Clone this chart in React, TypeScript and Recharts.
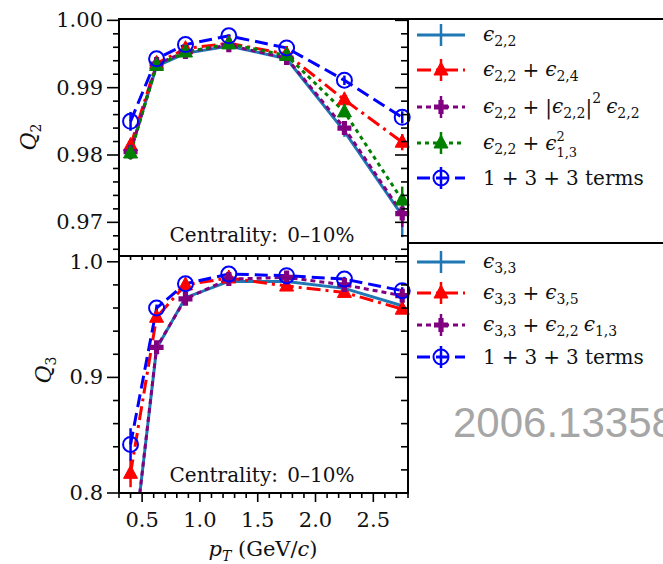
import React from 'react';
import { LineChart, Line, XAxis, YAxis, ErrorBar } from 'recharts';

const ptBins = [0.4, 0.625, 0.875, 1.25, 1.75, 2.25, 2.75];

// top panel, Q2
const q2Eps22 = [0.9806, 0.9932, 0.9951, 0.9962, 0.9943, 0.9835, 0.971];
const q2Eps22Err = [0.001, 0.0003, 0.0002, 0.0002, 0.0003, 0.0008, 0.0032];
const q2Eps24 = [0.9814, 0.9936, 0.9958, 0.9966, 0.995, 0.9882, 0.9819];
const q2Eps24Err = [0.001, 0.0003, 0.0002, 0.0002, 0.0003, 0.0007, 0.0012];
const q2Cubic = [0.9805, 0.9935, 0.9953, 0.9963, 0.9944, 0.984, 0.9713];
const q2CubicErr = [0.001, 0.0003, 0.0002, 0.0002, 0.0003, 0.0008, 0.002];
const q2Eps13 = [0.9803, 0.9933, 0.9953, 0.9965, 0.9948, 0.9864, 0.9733];
const q2Eps13Err = [0.001, 0.0003, 0.0002, 0.0002, 0.0003, 0.0007, 0.002];
const q2All = [0.985, 0.9943, 0.9964, 0.9977, 0.9959, 0.9911, 0.9856];
const q2AllErr = [0.0014, 0.0003, 0.0002, 0.0002, 0.0003, 0.0007, 0.0009];

// bottom panel, Q3 (first points of eps33 and mixed are below the axis)
const q3Eps33 = [0.73, 0.925, 0.969, 0.983, 0.983, 0.977, 0.962];
const q3Eps33Err = [0, 0.003, 0.002, 0.001, 0.001, 0.002, 0.003];
const q3Eps35 = [0.817, 0.952, 0.98, 0.986, 0.979, 0.9735, 0.959];
const q3Eps35Err = [0.012, 0.003, 0.002, 0.001, 0.001, 0.002, 0.003];
const q3Mixed = [0.73, 0.926, 0.968, 0.985, 0.9865, 0.98, 0.9707];
const q3MixedErr = [0, 0.003, 0.002, 0.001, 0.001, 0.002, 0.003];
const q3All = [0.842, 0.96, 0.981, 0.9894, 0.988, 0.985, 0.975];
const q3AllErr = [0.014, 0.003, 0.002, 0.001, 0.001, 0.002, 0.003];

const xMajorTicks = [0.5, 1.0, 1.5, 2.0, 2.5];
const xMinorTicks = [0.3, 0.4, 0.6, 0.7, 0.8, 0.9, 1.1, 1.2, 1.3, 1.4, 1.6, 1.7, 1.8, 1.9, 2.1, 2.2, 2.3, 2.4, 2.6, 2.7, 2.8];
const q2MajorTicks = [0.97, 0.98, 0.99, 1.0];
const q2MinorTicks = [0.966, 0.968, 0.972, 0.974, 0.976, 0.978, 0.982, 0.984, 0.986, 0.988, 0.992, 0.994, 0.996, 0.998];
const q3MajorTicks = [0.8, 0.9, 1.0];
const q3MinorTicks = [0.82, 0.84, 0.86, 0.88, 0.92, 0.94, 0.96, 0.98];

const SERIF = '"DejaVu Serif", "Liberation Serif", "Noto Serif", "Times New Roman", Times, FreeSerif, serif';
const PLOT_W = 289;

const STEEL = '#1f77b4';
const RED = '#ff0000';
const PURPLE = '#800080';
const GREEN = '#008000';
const BLUE = '#0000ff';

const DASH_RED = '14 5 3 5';
const DASH_PURPLE = '5 4';
const DASH_GREEN = '4 4';
const DASH_BLUE = '13 6';

type Kind = 'none' | 'triangle' | 'plus' | 'circle';

const q2Series = [
  { key: 'a', values: q2Eps22, errors: q2Eps22Err, color: STEEL, dash: undefined, marker: 'none' as Kind },
  { key: 'b', values: q2Eps24, errors: q2Eps24Err, color: RED, dash: DASH_RED, marker: 'triangle' as Kind },
  { key: 'c', values: q2Cubic, errors: q2CubicErr, color: PURPLE, dash: DASH_PURPLE, marker: 'plus' as Kind },
  { key: 'd', values: q2Eps13, errors: q2Eps13Err, color: GREEN, dash: DASH_GREEN, marker: 'triangle' as Kind },
  { key: 'e', values: q2All, errors: q2AllErr, color: BLUE, dash: DASH_BLUE, marker: 'circle' as Kind },
];

const q3Series = [
  { key: 'a', values: q3Eps33, errors: q3Eps33Err, color: STEEL, dash: undefined, marker: 'none' as Kind },
  { key: 'b', values: q3Eps35, errors: q3Eps35Err, color: RED, dash: DASH_RED, marker: 'triangle' as Kind },
  { key: 'c', values: q3Mixed, errors: q3MixedErr, color: PURPLE, dash: DASH_PURPLE, marker: 'plus' as Kind },
  { key: 'e', values: q3All, errors: q3AllErr, color: BLUE, dash: DASH_BLUE, marker: 'circle' as Kind },
];

const buildRows = (series: typeof q2Series) =>
  ptBins.map((pt, i) => {
    const row: any = { pt };
    series.forEach((s) => {
      row[s.key] = s.values[i];
      row[s.key + 'Err'] = s.errors[i];
    });
    return row;
  });

const q2Rows = buildRows(q2Series);
const q3Rows = buildRows(q3Series);

const isIn = (list: number[], v: number) => list.some((m) => Math.abs(m - v) < 1e-6);

function Marker({ kind, cx, cy, color }: { kind: Kind; cx: number; cy: number; color: string }) {
  if (kind === 'triangle') {
    return <polygon points={`${cx},${cy - 8} ${cx + 7},${cy + 5} ${cx - 7},${cy + 5}`} fill={color} stroke={color} strokeWidth={1} />;
  }
  if (kind === 'plus') {
    const a = 7;
    const b = 2.6;
    const d = `M${cx - b},${cy - a}H${cx + b}V${cy - b}H${cx + a}V${cy + b}H${cx + b}V${cy + a}H${cx - b}V${cy + b}H${cx - a}V${cy - b}H${cx - b}Z`;
    return <path d={d} fill={color} />;
  }
  if (kind === 'circle') {
    return <circle cx={cx} cy={cy} r={7.5} fill="none" stroke={color} strokeWidth={2} />;
  }
  return null;
}

function YTick(props: any) {
  const { x, y, payload, majors, digits } = props;
  const v = payload.value;
  const major = isIn(majors, v);
  const len = major ? 12 : 6;
  return (
    <g>
      <line x1={x - len} x2={x} y1={y} y2={y} stroke="#000" strokeWidth={1.6} />
      <line x1={x + PLOT_W - len - 1} x2={x + PLOT_W} y1={y} y2={y} stroke="#000" strokeWidth={1.6} />
      {major && (
        <text x={x - 16} y={y} textAnchor="end" dominantBaseline="central" fontFamily={SERIF} fontSize={21} fill="#111">
          {v.toFixed(digits)}
        </text>
      )}
    </g>
  );
}

function XTick(props: any) {
  const { x, y, payload, showLabel } = props;
  const v = payload.value;
  const major = isIn(xMajorTicks, v);
  return (
    <g>
      <line x1={x} x2={x} y1={y} y2={y + (major ? 9 : 5)} stroke="#000" strokeWidth={1.6} />
      {showLabel && major && (
        <text x={x} y={y + 27} textAnchor="middle" dominantBaseline="central" fontFamily={SERIF} fontSize={21} fill="#111">
          {v.toFixed(1)}
        </text>
      )}
    </g>
  );
}

const xTicks = [...xMajorTicks, ...xMinorTicks].sort((p, q) => p - q);

function Panel({ rows, series, domain, majors, minors, digits, height, top, xHeight, showLabels }: any) {
  const ticks = [...majors, ...minors].sort((p: number, q: number) => p - q);
  return (
    <LineChart width={420} height={height} data={rows} margin={{ top, right: 12, bottom: 0, left: 39 }}>
      <XAxis
        dataKey="pt"
        type="number"
        domain={[0.3, 2.8]}
        ticks={xTicks}
        interval={0}
        tickSize={0}
        tickMargin={0}
        height={xHeight}
        axisLine={{ stroke: '#000', strokeWidth: 2 }}
        tickLine={false}
        tick={(p: any) => <XTick {...p} showLabel={showLabels} />}
      />
      <YAxis
        type="number"
        domain={domain}
        allowDataOverflow
        ticks={ticks}
        interval={0}
        tickSize={0}
        tickMargin={0}
        width={80}
        axisLine={{ stroke: '#000', strokeWidth: 2 }}
        tickLine={false}
        tick={(p: any) => <YTick {...p} majors={majors} digits={digits} />}
      />
      {series.map((s: any) => (
        <Line
          key={s.key}
          dataKey={s.key}
          type="linear"
          stroke={s.color}
          strokeWidth={3}
          strokeDasharray={s.dash}
          isAnimationActive={false}
          activeDot={false}
          dot={(d: any) => <Marker key={`${s.key}-${d.index}`} kind={s.marker} cx={d.cx} cy={d.cy} color={s.color} />}
        >
          <ErrorBar dataKey={s.key + 'Err'} direction="y" width={0} stroke={s.color} strokeWidth={2.5} isAnimationActive={false} />
        </Line>
      ))}
    </LineChart>
  );
}

const Sub = ({ children }: any) => (
  <span style={{ fontSize: 14, position: 'relative', top: 5, fontStyle: 'normal' }}>{children}</span>
);
const Eps = ({ sub }: { sub: string }) => (
  <span>
    <i>ϵ</i>
    <Sub>{sub}</Sub>
  </span>
);
const Plus = () => <span style={{ margin: '0 6px' }}>+</span>;

function LegendRow({ y, color, dash, marker, children }: any) {
  return (
    <div style={{ position: 'absolute', left: 412, top: y - 15, height: 30, display: 'flex', alignItems: 'center', whiteSpace: 'nowrap' }}>
      <svg width={58} height={30} style={{ display: 'block' }}>
        <line x1={5} x2={53} y1={15} y2={15} stroke={color} strokeWidth={3} strokeDasharray={dash} />
        <line x1={29} x2={29} y1={4} y2={26} stroke={color} strokeWidth={2.5} />
        <Marker kind={marker} cx={29} cy={15} color={color} />
      </svg>
      <span style={{ marginLeft: 13, fontSize: 20, lineHeight: '30px', color: '#111', display: 'flex', alignItems: 'center' }}>{children}</span>
    </div>
  );
}

const centralityStyle: React.CSSProperties = {
  position: 'absolute',
  left: 262,
  transform: 'translate(-50%, -50%)',
  fontSize: 20,
  lineHeight: 1,
  whiteSpace: 'nowrap',
  wordSpacing: 3,
  color: '#111',
};

export default function App() {
  return (
    <div
      style={{
        position: 'absolute',
        left: 0,
        top: 0,
        width: 663,
        height: 564,
        overflow: 'hidden',
        background: '#fff',
        fontFamily: SERIF,
      }}
    >
      <div style={{ position: 'absolute', left: 0, top: 0 }}>
        <Panel rows={q2Rows} series={q2Series} domain={[0.965, 1.0002]} majors={q2MajorTicks} minors={q2MinorTicks} digits={2} height={260} top={19} xHeight={4} showLabels={false} />
      </div>
      <div style={{ position: 'absolute', left: 0, top: 0 }}>
        <Panel rows={q3Rows} series={q3Series} domain={[0.8, 1.005]} majors={q3MajorTicks} minors={q3MinorTicks} digits={1} height={564} top={256} xHeight={71} showLabels />
      </div>

      {/* frame pieces: top border, shared right edge, legend separator */}
      <div style={{ position: 'absolute', left: 118, top: 18, width: 545, height: 2, background: '#000' }} />
      <div style={{ position: 'absolute', left: 407, top: 18, width: 2, height: 476, background: '#000' }} />
      <div style={{ position: 'absolute', left: 409, top: 242, width: 254, height: 2, background: '#000' }} />

      <div style={{ ...centralityStyle, top: 235 }}>Centrality: 0–10%</div>
      <div style={{ ...centralityStyle, top: 475 }}>Centrality: 0–10%</div>

      <div style={{ position: 'absolute', left: 28, top: 137, transform: 'translate(-50%, -50%) rotate(-90deg)', fontSize: 22, whiteSpace: 'nowrap', color: '#111' }}>
        <i>Q</i>
        <Sub>2</Sub>
      </div>
      <div style={{ position: 'absolute', left: 43, top: 370, transform: 'translate(-50%, -50%) rotate(-90deg)', fontSize: 22, whiteSpace: 'nowrap', color: '#111' }}>
        <i>Q</i>
        <Sub>3</Sub>
      </div>
      <div style={{ position: 'absolute', left: 263, top: 549, transform: 'translate(-50%, -50%)', fontSize: 21, whiteSpace: 'nowrap', color: '#111', lineHeight: 1 }}>
        <i>p</i>
        <Sub>
          <i>T</i>
        </Sub>{' '}
        (GeV/<i>c</i>)
      </div>

      <LegendRow y={35} color={STEEL} marker="none">
        <Eps sub="2,2" />
      </LegendRow>
      <LegendRow y={70} color={RED} dash={DASH_RED} marker="triangle">
        <Eps sub="2,2" />
        <Plus />
        <Eps sub="2,4" />
      </LegendRow>
      <LegendRow y={107} color={PURPLE} dash={DASH_PURPLE} marker="plus">
        <Eps sub="2,2" />
        <Plus />
        <span>|</span>
        <Eps sub="2,2" />
        <span>|</span>
        <span style={{ fontSize: 14, position: 'relative', top: -9, marginRight: 5 }}>2</span>
        <Eps sub="2,2" />
      </LegendRow>
      <LegendRow y={143} color={GREEN} dash={DASH_GREEN} marker="triangle">
        <Eps sub="2,2" />
        <Plus />
        <i>ϵ</i>
        <span style={{ display: 'flex', flexDirection: 'column', fontSize: 13, marginTop: 4 }}>
          <span style={{ display: 'block', height: 16, lineHeight: '16px' }}>2</span>
          <span style={{ display: 'block', height: 16, lineHeight: '16px' }}>1,3</span>
        </span>
      </LegendRow>
      <LegendRow y={178} color={BLUE} dash={DASH_BLUE} marker="circle">
        1<Plus />3<Plus />3 terms
      </LegendRow>

      <LegendRow y={262} color={STEEL} marker="none">
        <Eps sub="3,3" />
      </LegendRow>
      <LegendRow y={293} color={RED} dash={DASH_RED} marker="triangle">
        <Eps sub="3,3" />
        <Plus />
        <Eps sub="3,5" />
      </LegendRow>
      <LegendRow y={325} color={PURPLE} dash={DASH_PURPLE} marker="plus">
        <Eps sub="3,3" />
        <Plus />
        <Eps sub="2,2" />
        <span style={{ width: 5 }} />
        <Eps sub="1,3" />
      </LegendRow>
      <LegendRow y={357} color={BLUE} dash={DASH_BLUE} marker="circle">
        1<Plus />3<Plus />3 terms
      </LegendRow>

      <div
        style={{
          position: 'absolute',
          left: 453,
          top: 402,
          fontFamily: '"Liberation Sans", Arial, sans-serif',
          fontSize: 42,
          lineHeight: '42px',
          color: '#a6a6a6',
          whiteSpace: 'nowrap',
        }}
      >
        2006.13358
      </div>
    </div>
  );
}
